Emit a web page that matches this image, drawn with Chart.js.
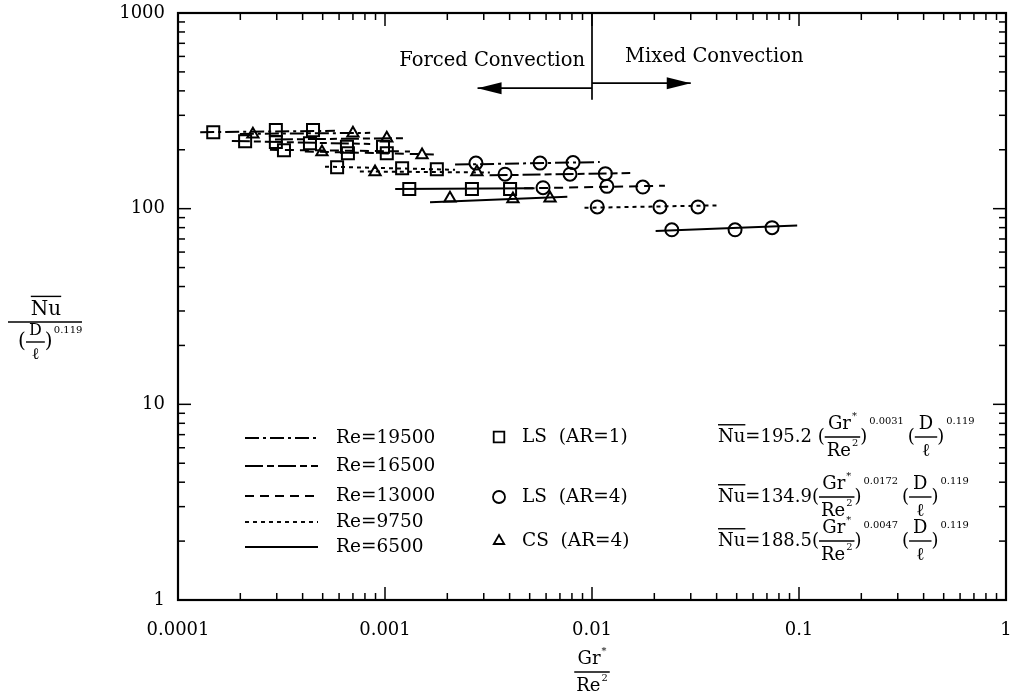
<!DOCTYPE html>
<html><head><meta charset="utf-8">
<script src="https://cdn.jsdelivr.net/npm/chart.js@4/dist/chart.umd.min.js"></script>
<style>html,body{margin:0;padding:0;background:#fff;}canvas{display:block}</style>
</head><body>
<canvas id="c" width="1017" height="700"></canvas>
<script>
// ---------- data ----------
const reLabels = ['Re=19500','Re=16500','Re=13000','Re=9750','Re=6500'];
const reDashes = [[14,4,3,4],[18,4,7,4],[9,6],[4,4],[]];

const xTickValues = [0.0001,0.001,0.01,0.1,1];
const xTickLabels = ['0.0001','0.001','0.01','0.1','1'];
const yTickValues = [1,10,100,1000];
const yTickLabels = ['1','10','100','1000'];

// LS (AR=1) squares
const lsAr1X = [1.48e-4,2.97e-4,4.49e-4, 2.11e-4,2.97e-4,4.34e-4, 3.25e-4,6.55e-4,9.78e-4, 6.62e-4,1.02e-3, 5.87e-4,1.21e-3,1.78e-3, 1.31e-3,2.63e-3,4.02e-3];
const lsAr1Y = [246,252,252, 221,219,216, 199,207,207, 192,192, 163,161,159, 126,126,126];
// LS (AR=4) circles
const lsAr4X = [2.75e-3,5.61e-3,8.10e-3, 3.80e-3,7.83e-3,1.16e-2, 5.80e-3,1.18e-2,1.76e-2, 1.06e-2,2.13e-2,3.25e-2, 2.43e-2,4.91e-2,7.41e-2];
const lsAr4Y = [171,171,172, 150,150,151, 128,130,129, 102,102,102, 78,78,80];
// CS (AR=4) triangles
const csAr4X = [2.30e-4,7.0e-4, 1.02e-3, 4.96e-4,1.51e-3, 8.95e-4,2.78e-3, 2.06e-3,4.15e-3,6.27e-3];
const csAr4Y = [240,243, 229, 195,188, 154,154, 113,112,113];

// correlation lines per Re (order as reLabels): [start,end]
const lsAr1LineX = [[1.28e-4,5.73e-4],[1.82e-4,8.48e-4],[2.78e-4,1.32e-3],[5.13e-4,2.18e-3],[1.12e-3,5.28e-3]];
const lsAr1LineY = [[246,250],[222,214],[200,196],[164,158],[126,127]];
const csAr4LineX = [[1.99e-4,8.48e-4],[2.94e-4,1.25e-3],[4.1e-4,1.84e-3],[7.56e-4,3.21e-3],[1.65e-3,7.6e-3]];
const csAr4LineY = [[241,244],[226,229],[196,189],[155,153],[108,115]];
const lsAr4LineX = [[2.18e-3,1.09e-2],[3.2e-3,1.53e-2],[4.7e-3,2.25e-2],[9.2e-3,4.1e-2],[2.03e-2,9.8e-2]];
const lsAr4LineY = [[168,173],[148,152],[127,131],[101,104],[77,82]];

// regime annotation
const regimeBoundary = 0.01;
const dividerBottomY = 360;
const forcedArrowTip = 0.0028, forcedArrowY = 413;
const mixedArrowTip = 0.03, mixedArrowY = 438;

const seriesNames = ['LS  (AR=1)','LS  (AR=4)','CS  (AR=4)'];
const seriesStyles = ['rect','circle','triangle'];
const eqCoefs = ['195.2 (','134.9(','188.5('];
const eqExps = ['0.0031','0.0172','0.0047'];

// ---------- helpers ----------
const FAM = '"DejaVu Serif", serif';
function tw(ctx,s,fs){ctx.font=fs+'px '+FAM;return ctx.measureText(s).width;}
function put(ctx,s,x,y,fs,align){ctx.font=fs+'px '+FAM;ctx.textAlign=align||'left';ctx.textBaseline='middle';ctx.fillText(s,x,y);}
function seg(ctx,x1,y1,x2,y2){ctx.beginPath();ctx.moveTo(x1,y1);ctx.lineTo(x2,y2);ctx.stroke();}
function wordSup(ctx,s,sup,x,y,fs,draw){
  const w1=tw(ctx,s,fs); const w2=sup?tw(ctx,sup,fs*0.55):0;
  if(draw){put(ctx,s,x,y,fs); if(sup) put(ctx,sup,x+w1+1,y-fs*0.45,fs*0.55);}
  return w1+(sup?w2+1:0);
}
function frac(ctx,x,yc,num,nsup,den,dsup,fs,pad){
  const wn=wordSup(ctx,num,nsup,0,0,fs,false), wd=wordSup(ctx,den,dsup,0,0,fs,false);
  const W=Math.max(wn,wd)+2*pad;
  wordSup(ctx,num,nsup,x+(W-wn)/2,yc-fs*0.72,fs,true);
  wordSup(ctx,den,dsup,x+(W-wd)/2,yc+fs*0.8,fs,true);
  ctx.lineWidth=1.4; seg(ctx,x,yc,x+W,yc);
  return W;
}
function overNu(ctx,x,yc,fs){
  const w=tw(ctx,'Nu',fs); put(ctx,'Nu',x,yc,fs); ctx.lineWidth=1.4; seg(ctx,x,yc-fs*0.68,x+w,yc-fs*0.68); return w;
}
function equation(ctx,x,yc,coef,exp){
  const fs=18;
  x+=overNu(ctx,x,yc,fs);
  put(ctx,'='+coef,x,yc,fs); x+=tw(ctx,'='+coef,fs);
  x+=frac(ctx,x,yc,'Gr','*','Re','2',fs,2);
  put(ctx,')',x,yc,fs); x+=tw(ctx,')',fs);
  put(ctx,exp,x+2,yc-fs*0.85,fs*0.55); x+=tw(ctx,exp,fs*0.55)+6;
  put(ctx,'(',x,yc,fs); x+=tw(ctx,'(',fs);
  x+=frac(ctx,x,yc,'D',null,'ℓ',null,fs,4);
  put(ctx,')',x,yc,fs); x+=tw(ctx,')',fs);
  put(ctx,'0.119',x+2,yc-fs*0.85,fs*0.55);
}
function arrow(ctx,x1,x2,y){
  ctx.lineWidth=1.7; seg(ctx,x1,y,x2,y);
  const d=Math.sign(x2-x1);
  ctx.beginPath(); ctx.moveTo(x2,y); ctx.lineTo(x2-d*24,y-6); ctx.lineTo(x2-d*24,y+6); ctx.closePath(); ctx.fill();
}

const decor = {
  id:'decor',
  afterDraw(chart){
    const {ctx, chartArea:a, scales:{x,y}} = chart;
    ctx.save();
    ctx.strokeStyle='#000'; ctx.fillStyle='#000';
    // frame
    ctx.lineWidth=2.2; ctx.strokeRect(a.left,a.top,a.right-a.left,a.bottom-a.top);
    // ticks (inward, all four sides)
    ctx.lineWidth=1.5;
    for(let e=-4;e<=0;e++){for(let m=1;m<=9;m++){
      if(e===0&&m>1) break;
      const px=x.getPixelForValue(m*Math.pow(10,e)); const L=m===1?13:7;
      seg(ctx,px,a.bottom,px,a.bottom-L); seg(ctx,px,a.top,px,a.top+L);
    }}
    for(let e=0;e<=3;e++){for(let m=1;m<=9;m++){
      if(e===3&&m>1) break;
      const py=y.getPixelForValue(m*Math.pow(10,e)); const L=m===1?13:7;
      seg(ctx,a.left,py,a.left+L,py); seg(ctx,a.right,py,a.right-L,py);
    }}
    // regime annotation
    const bx=x.getPixelForValue(regimeBoundary);
    ctx.lineWidth=1.7; seg(ctx,bx,a.top,bx,y.getPixelForValue(dividerBottomY));
    arrow(ctx,bx,x.getPixelForValue(forcedArrowTip),y.getPixelForValue(forcedArrowY));
    arrow(ctx,bx,x.getPixelForValue(mixedArrowTip),y.getPixelForValue(mixedArrowY));
    put(ctx,'Forced Convection',bx-7,61,19.5,'right');
    put(ctx,'Mixed Convection',bx+33,57,19.5,'left');
    // Re legend
    const rowY=[438,466,496,522,547];
    reLabels.forEach((lab,i)=>{
      ctx.lineWidth=1.9; ctx.setLineDash(reDashes[i]); seg(ctx,245,rowY[i],318,rowY[i]); ctx.setLineDash([]);
      put(ctx,lab,336,rowY[i],18.5);
    });
    // marker legend + equations
    const mY=[437,497,541];
    seriesNames.forEach((n,i)=>{
      ctx.fillStyle='rgba(0,0,0,0)'; ctx.strokeStyle='#000'; ctx.lineWidth=1.8;
      Chart.helpers.drawPoint(ctx,{pointStyle:seriesStyles[i],radius:i===0?7.5:6,rotation:0,borderWidth:1.8},499,mY[i]);
      ctx.fillStyle='#000';
      put(ctx,n,522,mY[i],18.5);
      equation(ctx,718,mY[i],eqCoefs[i],eqExps[i]);
    });
    // y axis title
    ctx.lineWidth=1.4;
    const nw=tw(ctx,'Nu',20); overNu(ctx,46-nw/2,310,20);
    seg(ctx,8,322,82,322);
    put(ctx,'(',18,342,20);
    const W=frac(ctx,26,342,'D',null,'ℓ',null,16,3);
    put(ctx,')',26+W,342,20);
    put(ctx,'0.119',26+W+9,330,10);
    // x axis title
    const xt=x.getPixelForValue(0.01);
    const wg=wordSup(ctx,'Re','2',0,0,18,false)+4;
    frac(ctx,xt-wg/2,672,'Gr','*','Re','2',18,2);
    ctx.restore();
  }
};

function lbl(values,labels,v){
  const i=values.findIndex(t=>Math.abs(Math.log10(t)-Math.log10(v))<1e-6);
  return i>=0?labels[i]:'';
}

const datasets=[
  {data:lsAr1X.map((v,i)=>({x:v,y:lsAr1Y[i]})),pointStyle:'rect',pointRadius:8.5},
  {data:lsAr4X.map((v,i)=>({x:v,y:lsAr4Y[i]})),pointStyle:'circle',pointRadius:6.5},
  {data:csAr4X.map((v,i)=>({x:v,y:csAr4Y[i]})),pointStyle:'triangle',pointRadius:6.5},
].map(d=>Object.assign(d,{showLine:false,borderColor:'#000',backgroundColor:'rgba(0,0,0,0)',borderWidth:2,pointBorderWidth:2}));

[[lsAr1LineX,lsAr1LineY],[csAr4LineX,csAr4LineY],[lsAr4LineX,lsAr4LineY]].forEach(([X,Y])=>{
  X.forEach((xs,i)=>datasets.push({
    data:xs.map((v,k)=>({x:v,y:Y[i][k]})),showLine:true,pointRadius:0,
    borderColor:'#000',borderWidth:2,borderDash:reDashes[i],fill:false
  }));
});

function noPad(s){s.paddingLeft=0;s.paddingRight=0;s.paddingTop=0;s.paddingBottom=0;}

new Chart(document.getElementById('c'),{
  type:'scatter',
  data:{datasets},
  options:{
    responsive:false,animation:false,
    layout:{padding:{top:13,right:11,left:0,bottom:0}},
    plugins:{legend:{display:false},tooltip:{enabled:false}},
    scales:{
      x:{type:'logarithmic',min:1e-4,max:1,
        afterBuildTicks:s=>{s.ticks=xTickValues.map(v=>({value:v}));},
        afterFit:s=>{s.height=100;noPad(s);},
        grid:{display:false,drawTicks:false},border:{display:false},
        ticks:{callback:v=>lbl(xTickValues,xTickLabels,v),font:{family:'DejaVu Serif',size:18},color:'#000',padding:20,maxRotation:0,autoSkip:false}},
      y:{type:'logarithmic',min:1,max:1000,
        afterBuildTicks:s=>{s.ticks=yTickValues.map(v=>({value:v}));},
        afterFit:s=>{s.width=178;noPad(s);},
        grid:{display:false,drawTicks:false},border:{display:false},
        ticks:{callback:v=>lbl(yTickValues,yTickLabels,v),font:{family:'DejaVu Serif',size:18},color:'#000',padding:13,autoSkip:false}}
    }
  },
  plugins:[decor]
});
</script>
</body></html>
